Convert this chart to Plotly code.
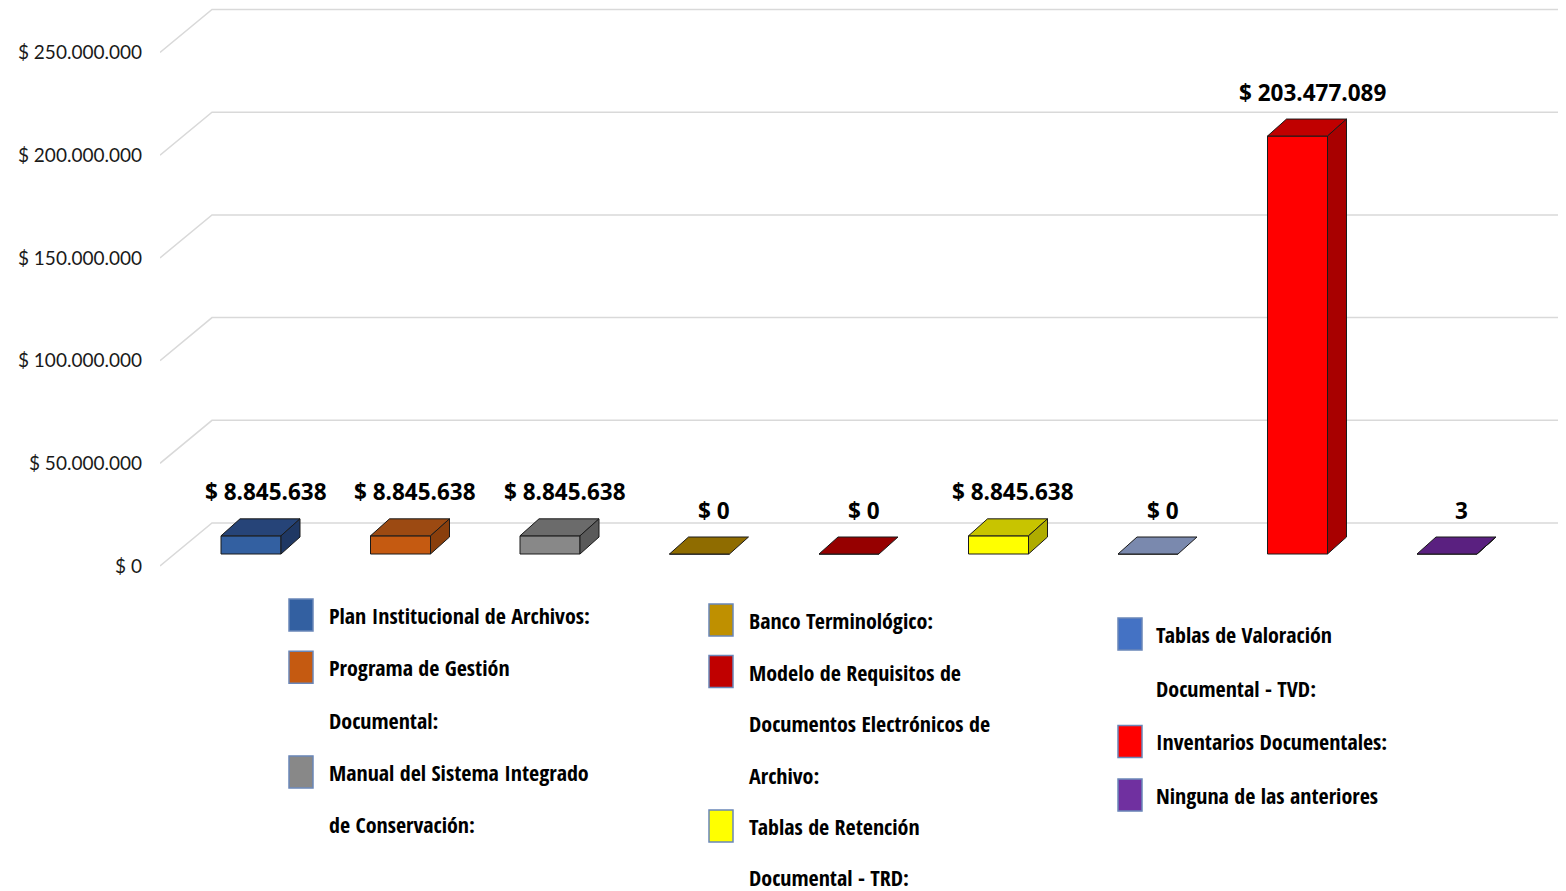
import plotly.graph_objects as go

# ---------------- data ----------------
categories = [
    "Plan Institucional de Archivos:",
    "Programa de Gestión Documental:",
    "Manual del Sistema Integrado de Conservación:",
    "Banco Terminológico:",
    "Modelo de Requisitos de Documentos Electrónicos de Archivo:",
    "Tablas de Retención Documental - TRD:",
    "Tablas de Valoración Documental - TVD:",
    "Inventarios Documentales:",
    "Ninguna de las anteriores",
]
values = [8845638, 8845638, 8845638, 0, 0, 8845638, 0, 203477089, 3]
value_labels = ["$ 8.845.638", "$ 8.845.638", "$ 8.845.638", "$ 0", "$ 0",
                "$ 8.845.638", "$ 0", "$ 203.477.089", "3"]
legend_lines = [
    ["Plan Institucional de Archivos:"],
    ["Programa de Gestión", "Documental:"],
    ["Manual del Sistema Integrado", "de Conservación:"],
    ["Banco Terminológico:"],
    ["Modelo de Requisitos de", "Documentos Electrónicos de", "Archivo:"],
    ["Tablas de Retención", "Documental - TRD:"],
    ["Tablas de Valoración", "Documental - TVD:"],
    ["Inventarios Documentales:"],
    ["Ninguna de las anteriores"],
]
legend_column = [0, 0, 0, 1, 1, 1, 2, 2, 2]
front_colors = ["#3360A1", "#C55A11", "#888888", "#BF9000", "#C00000",
                "#FFFF00", "#4472C4", "#FF0000", "#7030A0"]
top_colors = ["#264478", "#9C4A12", "#6B6B6B", "#8F6C00", "#960000",
              "#C8C400", "#7A89AE", "#C00000", "#5A2080"]
side_colors = ["#1F3864", "#8A3F0C", "#5A5A5A", "#7A5C00", "#7F0000",
               "#AFAC00", "#2F5597", "#A80000", "#4B1B6B"]
tick_values = [0, 50000000, 100000000, 150000000, 200000000, 250000000]

# ---------------- geometry (page pixels -> data units) ----------------
PAGE_W, PAGE_H = 1566, 891
OFF = 8                      # default body margin of the html page
W, H = PAGE_W - OFF, PAGE_H - OFF
plot_left, plot_top, plot_bottom = 160, 8, 580   # page px
cat_pitch = 149.5            # px per category
x_first = 251                # px of first category center
px_per_val = 102.7 / 50e6    # px per dollar
y_zero_px = 566

x_min = (plot_left - x_first) / cat_pitch
x_max = (PAGE_W - x_first) / cat_pitch
y_max = (y_zero_px - plot_top) / px_per_val
y_min = (y_zero_px - plot_bottom) / px_per_val

bar_w = 60 / cat_pitch
bar_base = 12 / px_per_val
bar_dx = 19 / cat_pitch
bar_dy = 17 / px_per_val
wall_dx = 52 / cat_pitch
wall_dy = 43 / px_per_val
wall_right = (1558 - x_first) / cat_pitch


def fmt_money(v):
    return "$ " + f"{v:,}".replace(",", ".")


def px_to_paper_x(px):
    return (px - plot_left) / (PAGE_W - plot_left)


def px_to_paper_y(py):
    return (plot_bottom - py) / (plot_bottom - plot_top)


fig = go.Figure()
shapes = []

# gridlines (back wall + side wall), below the bars
for t in tick_values:
    shapes.append(dict(type="path", xref="x", yref="y", layer="below",
                       path=f"M {x_min},{t} L {x_min + wall_dx},{t + wall_dy} L {wall_right},{t + wall_dy}",
                       line=dict(color="#D9D9D9", width=1.5)))

xs = list(range(len(values)))
outline = dict(color="#1A1A1A", width=1)

# front faces
fig.add_trace(go.Bar(x=xs, y=values, base=[bar_base] * len(values), width=bar_w,
                     marker=dict(color=front_colors, line=outline),
                     showlegend=False, hoverinfo="skip"))

# top and side faces
for i, v in enumerate(values):
    l, r = i - bar_w / 2, i + bar_w / 2
    top = bar_base + v
    fig.add_trace(go.Scatter(
        x=[l, r, r + bar_dx, l + bar_dx, l],
        y=[top, top, top + bar_dy, top + bar_dy, top],
        mode="lines", fill="toself", fillcolor=top_colors[i],
        line=outline, hoverinfo="skip", showlegend=False))
    if v > 0:
        fig.add_trace(go.Scatter(
            x=[r, r + bar_dx, r + bar_dx, r, r],
            y=[bar_base, bar_base + bar_dy, top + bar_dy, top, bar_base],
            mode="lines", fill="toself", fillcolor=side_colors[i],
            line=outline, hoverinfo="skip", showlegend=False))

annotations = []
# data labels
for i, v in enumerate(values):
    annotations.append(dict(
        x=i + 0.1, y=bar_base + v + bar_dy, xref="x", yref="y",
        text=value_labels[i], showarrow=False, yanchor="middle", yshift=27,
        font=dict(family="Open Sans, Lato, sans-serif", size=22.5, color="#000000", weight="bold")))

# custom legend
col_swatch_px = [289, 709, 1118]
col_text_px = [327, 747, 1154]
col_start_px = [615, 620, 634]
col_pitch_px = [52.3, 51.5, 53.7]
legend_font = dict(family="Open Sans Condensed, Liberation Sans Narrow, Roboto Condensed, DejaVu Sans Condensed, sans-serif",
                   size=22, color="#000000")

line_idx = [0, 0, 0]
for i, lines in enumerate(legend_lines):
    c = legend_column[i]
    y0 = col_start_px[c] + line_idx[c] * col_pitch_px[c]
    shapes.append(dict(type="rect", xref="paper", yref="paper",
                       x0=px_to_paper_x(col_swatch_px[c]), x1=px_to_paper_x(col_swatch_px[c] + 24),
                       y0=px_to_paper_y(y0 - 16), y1=px_to_paper_y(y0 + 16),
                       fillcolor=front_colors[i], line=dict(color="#6A86B8", width=1.5)))
    for j, txt in enumerate(lines):
        yy = col_start_px[c] + (line_idx[c] + j) * col_pitch_px[c]
        annotations.append(dict(
            x=px_to_paper_x(col_text_px[c]), y=px_to_paper_y(yy), xref="paper", yref="paper",
            text=txt, showarrow=False, xanchor="left", yanchor="middle", font=legend_font))
    line_idx[c] += len(lines)

fig.update_layout(
    width=W, height=H,
    margin=dict(l=plot_left - OFF, r=0, t=plot_top - OFF, b=PAGE_H - plot_bottom),
    plot_bgcolor="white", paper_bgcolor="white",
    showlegend=False,
    xaxis=dict(range=[x_min, x_max], visible=False, fixedrange=True),
    yaxis=dict(range=[y_min, y_max], showgrid=False, zeroline=False, showline=False,
               tickvals=tick_values, ticktext=[fmt_money(t) for t in tick_values],
               ticks="", ticklabelstandoff=17,
               tickfont=dict(family="Lato, Open Sans, sans-serif", size=19, color="#1A1A1A")),
    annotations=annotations, shapes=shapes,
)

fig.write_html("out.html")
